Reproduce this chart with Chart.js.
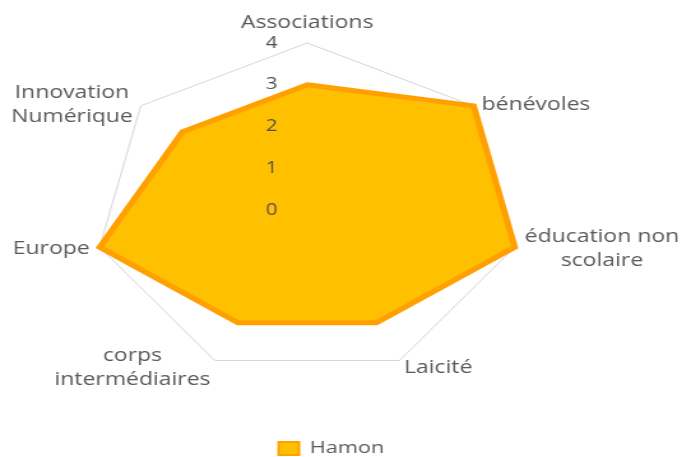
<!DOCTYPE html>
<html><head><meta charset="utf-8">
<script src="https://cdn.jsdelivr.net/npm/chart.js@4.4.0/dist/chart.umd.min.js"></script>
<style>
html,body{margin:0;padding:0;background:#fff;overflow:hidden}
</style></head>
<body>
<canvas id="c" width="535" height="457" style="display:block;width:682px;height:457px"></canvas>
<script>
// ---- data ----
const categories = [
  ['Associations'],
  ['bénévoles'],
  ['éducation non', 'scolaire'],
  ['Laicité'],
  ['corps', 'intermédiaires'],
  ['Europe'],
  ['Innovation', 'Numérique']
];
const seriesName = 'Hamon';
const hamonValues = [3, 4, 4, 3, 3, 4, 3];
const tickValues = [0, 1, 2, 3, 4];

// ---- style ----
const TEXT_COLOR = '#595959';
const TICK_COLOR = '#505050';
const LABEL_FONT = '18px "Open Sans"';
const TICK_FONT = '16px "Open Sans"';
const LINE_H = 24;
const LABEL_GAP = 8;
const TICK_OFFSET_X = -28;
const CENTER_SHIFT_X = -20;

const excelPointLabels = {
  id: 'excelPointLabels',
  afterDraw(chart) {
    const s = chart.scales.r, ctx = chart.ctx;
    ctx.save();
    ctx.font = LABEL_FONT;
    ctx.fillStyle = TEXT_COLOR;
    ctx.textBaseline = 'middle';
    ctx.textAlign = 'center';
    categories.forEach((lines, i) => {
      const p = s.getPointPosition(i, s.drawingArea + LABEL_GAP);
      const deg = Math.round((s.getIndexAngle(i) * 180 / Math.PI)) % 360;
      const upperSide = deg !== 0 && (deg < 90 || deg > 270);
      const py = upperSide ? s.getPointPosition(i, s.drawingArea + LABEL_GAP * 0.3).y : p.y;
      const w = Math.max(...lines.map(l => ctx.measureText(l).width));
      const blockH = lines.length * LINE_H;
      let cx, top;
      if (deg === 0) { cx = p.x; top = p.y - blockH; }
      else if (deg === 180) { cx = p.x; top = p.y; }
      else if (deg < 180) { cx = p.x + w / 2; top = py - blockH / 2; }
      else { cx = p.x - w / 2; top = py - blockH / 2; }
      lines.forEach((l, k) => ctx.fillText(l, cx, top + LINE_H * (k + 0.5)));
    });
    ctx.restore();
  }
};

const excelTicks = {
  id: 'excelTicks',
  afterDatasetsDraw(chart) {
    const s = chart.scales.r, ctx = chart.ctx;
    ctx.save();
    ctx.font = TICK_FONT;
    ctx.fillStyle = TICK_COLOR;
    ctx.textAlign = 'center';
    ctx.textBaseline = 'middle';
    tickValues.forEach(v => {
      ctx.fillText(String(v), s.xCenter + TICK_OFFSET_X, s.yCenter - s.getDistanceFromCenterForValue(v));
    });
    ctx.restore();
  }
};

new Chart(document.getElementById('c'), {
  type: 'radar',
  data: {
    labels: categories.map(c => c.join(' ')),
    datasets: [{
      label: seriesName,
      data: hamonValues,
      backgroundColor: '#FFC000',
      borderColor: '#FFA000',
      borderWidth: 5,
      pointRadius: 0,
      pointHoverRadius: 0,
      fill: true
    }]
  },
  options: {
    responsive: false,
    animation: false,
    devicePixelRatio: 1,
    layout: { padding: { top: 43, bottom: -10, left: 0, right: 15 } },
    scales: {
      r: {
        min: 0, max: 4,
        ticks: { display: false, stepSize: 1 },
        pointLabels: { display: false },
        angleLines: { display: false },
        grid: { color: '#D6D6D6', lineWidth: 1 },
        afterFit(scale) { scale.xCenter += CENTER_SHIFT_X + 1; }
      }
    },
    plugins: {
      tooltip: { enabled: false },
      legend: {
        position: 'bottom',
        labels: {
          font: { family: '"Open Sans"', size: 17 },
          color: TEXT_COLOR,
          boxWidth: 16,
          boxHeight: 13,
          padding: 62,
          generateLabels(chart) {
            const items = Chart.defaults.plugins.legend.labels.generateLabels(chart);
            items.forEach(it => { it.lineWidth = 2; });
            return items;
          }
        }
      }
    }
  },
  plugins: [excelPointLabels, excelTicks]
});
</script>
</body></html>
